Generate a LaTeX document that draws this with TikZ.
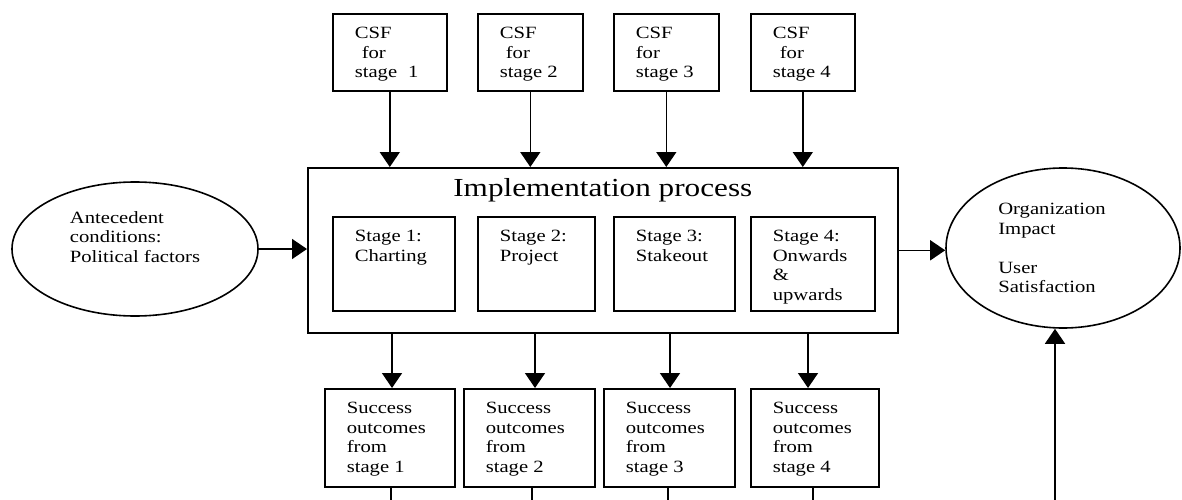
\documentclass[tikz,border=0pt]{standalone}
\usepackage{fontspec}
\setmainfont[FakeStretch=1.2]{Liberation Serif}
\usetikzlibrary{arrows.meta,shapes.geometric}
\newcommand{\bxt}[3]{\parbox[c][#2][t]{#1}{\fontsize{17.2}{19.5}\selectfont\leftskip=22pt\relax\rightskip=0pt plus 1fil\parindent=0pt\vspace*{13.5pt}#3\par}}
\begin{document}
\begin{tikzpicture}[x=1pt,y=-1pt,
  box/.style={draw, line width=1.6pt, inner sep=0pt, anchor=north west},
  ell/.style={draw, ellipse, line width=1.6pt, inner sep=0pt, align=left, font=\fontsize{17.2}{19.5}\selectfont},
  arr/.style={line width=1.6pt, -{Triangle[length=15pt,width=20pt]}},
  ln/.style={line width=1.6pt}]
\useasboundingbox (0,0) rectangle (1182,500);

% CSF boxes
\node[box] (c1) at (332,13) {\bxt{114pt}{77pt}{CSF\\\hspace*{7pt}for\\stage\hspace{11pt}1}};
\node[box] (c2) at (477,13) {\bxt{105pt}{77pt}{CSF\\\hspace*{6pt}for\\stage 2}};
\node[box] (c3) at (613,13) {\bxt{105pt}{77pt}{CSF\\for\\stage 3}};
\node[box] (c4) at (750,13) {\bxt{104pt}{77pt}{CSF\\\hspace*{7pt}for\\stage 4}};

% Implementation process
\node[box] (impl) at (307,167) {\parbox[c][165pt][t]{590pt}{\centering\fontsize{26}{30}\selectfont\vspace*{11pt}Implementation process\par}};
\node[box] (s1) at (332,216) {\bxt{122pt}{94pt}{Stage 1:\\Charting}};
\node[box] (s2) at (477,216) {\bxt{117pt}{94pt}{Stage 2:\\Project}};
\node[box] (s3) at (613,216) {\bxt{121pt}{94pt}{Stage 3:\\Stakeout}};
\node[box] (s4) at (750,216) {\bxt{124pt}{94pt}{Stage 4:\\Onwards\\\&\\upwards}};

% Success outcomes
\node[box] (b1) at (324,388) {\bxt{130pt}{98pt}{Success\\outcomes\\from\\stage 1}};
\node[box] (b2) at (463,388) {\bxt{131pt}{98pt}{Success\\outcomes\\from\\stage 2}};
\node[box] (b3) at (603,388) {\bxt{131pt}{98pt}{Success\\outcomes\\from\\stage 3}};
\node[box] (b4) at (750,388) {\bxt{128pt}{98pt}{Success\\outcomes\\from\\stage 4}};

% Ellipses
\node[ell, minimum width=246pt, minimum height=134pt] (ant) at (135,249) {Antecedent\\conditions:\\Political factors\hspace*{8pt}\\[5pt]\mbox{}};
\node[ell, minimum width=234pt, minimum height=160pt] (org) at (1063,248) {Organization\hspace*{22pt}\\Impact\\[19.5pt]User\\Satisfaction};

% arrows from CSF
\draw[arr] (c1.south) -- (c1.south |- impl.north);
\draw[arr] (c2.south) -- (c2.south |- impl.north);
\draw[arr] (c3.south) -- (c3.south |- impl.north);
\draw[arr] (c4.south) -- (c4.south |- impl.north);

% arrows to outcomes
\coordinate (d1) at (392,0);
\coordinate (d2) at (535,0);
\coordinate (d3) at (670,0);
\coordinate (d4) at (808,0);
\draw[arr] (impl.south -| d1) -- (b1.north -| d1);
\draw[arr] (impl.south -| d2) -- (b2.north -| d2);
\draw[arr] (impl.south -| d3) -- (b3.north -| d3);
\draw[arr] (impl.south -| d4) -- (b4.north -| d4);

% lines below outcomes
\coordinate (e1) at (391,500);
\coordinate (e2) at (532,500);
\coordinate (e3) at (668,500);
\coordinate (e4) at (813,500);
\draw[ln] (b1.south -| e1) -- (e1);
\draw[ln] (b2.south -| e2) -- (e2);
\draw[ln] (b3.south -| e3) -- (e3);
\draw[ln] (b4.south -| e4) -- (e4);

% side arrows
\draw[arr] (ant.east) -- (ant.east -| impl.west);
\draw[arr] (impl.east) -- (impl.east -| org.west);
\coordinate (f) at (1055,500);
\draw[arr] (f) -- (f |- org.south);
\end{tikzpicture}
\end{document}
